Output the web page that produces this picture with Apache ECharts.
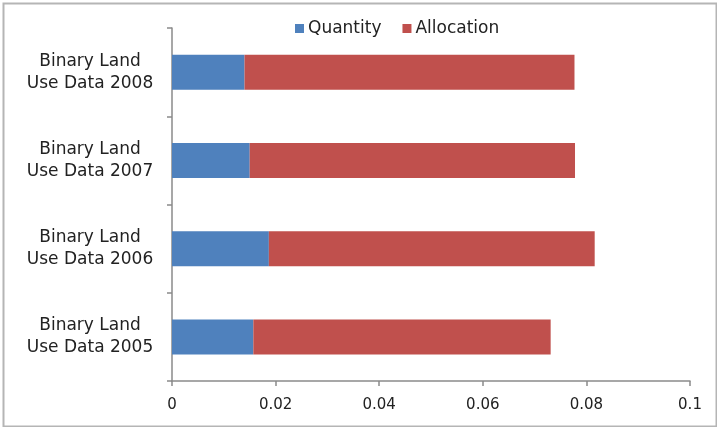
<!DOCTYPE html>
<html>
<head>
<meta charset="utf-8">
<script src="https://cdn.jsdelivr.net/npm/echarts@6/dist/echarts.min.js"></script>
<style>
html,body{margin:0;padding:0;background:#fff;}
#c{width:717px;height:427px;}
</style>
</head>
<body>
<div id="c"></div>
<script>
var categories = ['Binary Land\nUse Data 2005', 'Binary Land\nUse Data 2006', 'Binary Land\nUse Data 2007', 'Binary Land\nUse Data 2008'];
var quantity = [0.0157, 0.0187, 0.0150, 0.0140];
var allocation = [0.0574, 0.0629, 0.0628, 0.0637];
var xTicks = [0, 0.02, 0.04, 0.06, 0.08, 0.1];

var chart = echarts.init(document.getElementById('c'), null, {renderer: 'canvas'});
var font = 'DejaVu Sans';
chart.setOption({
  animation: false,
  backgroundColor: '#fff',
  textStyle: {fontFamily: font},
  graphic: [{
    type: 'rect', left: 1, top: 1,
    shape: {width: 713, height: 423},
    style: {fill: 'none', stroke: '#b5b5b5', lineWidth: 2}
  }],
  legend: {
    top: 15, left: 290,
    itemWidth: 9, itemHeight: 9, itemGap: 21,
    icon: 'rect',
    textStyle: {fontFamily: font, fontSize: 17, color: '#222', padding: [0, 0, 0, -1]},
    data: ['Quantity', 'Allocation']
  },
  grid: {left: 172, right: 27, top: 28, bottom: 46, containLabel: false},
  xAxis: {
    type: 'value', min: 0, max: 0.1, interval: 0.02,
    axisLine: {show: true, lineStyle: {color: '#8a8a8a', width: 1.5}},
    axisTick: {show: true, length: 5, lineStyle: {color: '#8a8a8a', width: 1.5}},
    splitLine: {show: false},
    axisLabel: {
      fontFamily: font, fontSize: 15, color: '#222', margin: 17,
      formatter: function (v) {
        for (var i = 0; i < xTicks.length; i++) { if (Math.abs(xTicks[i] - v) < 1e-9) return String(xTicks[i]); }
        return '';
      }
    }
  },
  yAxis: {
    type: 'category', data: categories,
    axisLine: {show: true, lineStyle: {color: '#8a8a8a', width: 1.5}},
    axisTick: {show: true, length: 5, lineStyle: {color: '#8a8a8a', width: 1.5}},
    axisLabel: {
      fontFamily: font, fontSize: 17, color: '#222', align: 'center',
      margin: 82, lineHeight: 22
    }
  },
  series: [{
    name: 'Quantity', type: 'bar', stack: 'a', data: quantity,
    barWidth: 35,
    itemStyle: {color: '#4f81bd'}
  }, {
    name: 'Allocation', type: 'bar', stack: 'a', data: allocation,
    barWidth: 35,
    itemStyle: {color: '#c0504d'}
  }]
});
</script>
</body>
</html>
